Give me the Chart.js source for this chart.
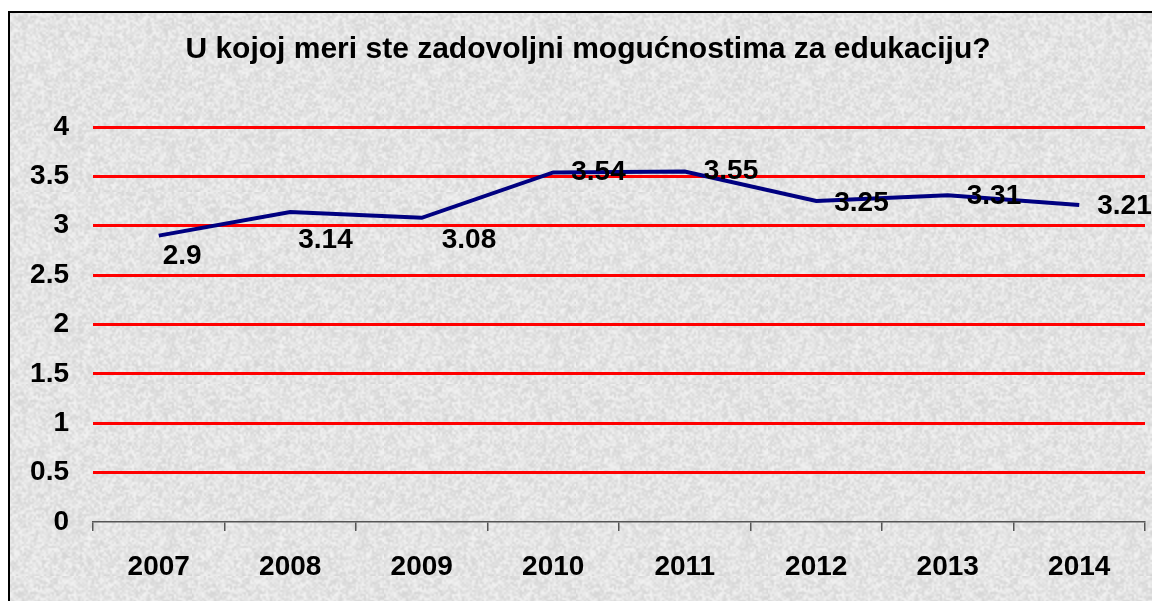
<!DOCTYPE html>
<html>
<head>
<meta charset="utf-8">
<script src="https://cdn.jsdelivr.net/npm/chart.js@4"></script>
<style>
  html, body { margin: 0; padding: 0; background: #fff; }
  #box { position: absolute; left: 0; top: 0; width: 1152px; height: 601px; }
</style>
</head>
<body>
<div id="box"><canvas id="chart" width="1152" height="601"></canvas></div>
<script>
const chartTitle = 'U kojoj meri ste zadovoljni mogućnostima za edukaciju?';
const years = ['2007', '2008', '2009', '2010', '2011', '2012', '2013', '2014'];
const scores = [2.9, 3.14, 3.08, 3.54, 3.55, 3.25, 3.31, 3.21];

// where each value label sits relative to its point (px)
const labelDx = [4, 8, 20, 18, 19, 18, 19, 18];
const labelDy = [21, 28, 22, 0, 0, 2, 1, 1];

const FONT = '"Liberation Sans", Arial, sans-serif';

// grey marble-ish background tile
function makeTile() {
  const small = document.createElement('canvas');
  small.width = 96; small.height = 96;
  const sctx = small.getContext('2d');
  const img = sctx.createImageData(96, 96);
  let seed = 12345;
  const rnd = () => { seed = (seed * 1103515245 + 12345) & 0x7fffffff; return seed / 0x7fffffff; };
  for (let i = 0; i < 96 * 96; i++) {
    const v = Math.round(212 + rnd() * 32);
    img.data[i * 4] = v; img.data[i * 4 + 1] = v; img.data[i * 4 + 2] = v; img.data[i * 4 + 3] = 255;
  }
  sctx.putImageData(img, 0, 0);
  const tile = document.createElement('canvas');
  tile.width = 192; tile.height = 192;
  const tctx = tile.getContext('2d');
  tctx.imageSmoothingEnabled = true;
  tctx.drawImage(small, 0, 0, 192, 192);
  return tile;
}
const tile = makeTile();

const backgroundPlugin = {
  id: 'background',
  beforeDraw(chart) {
    const ctx = chart.ctx;
    ctx.save();
    ctx.fillStyle = '#fff';
    ctx.fillRect(0, 0, chart.width, chart.height);
    ctx.fillStyle = ctx.createPattern(tile, 'repeat');
    ctx.fillRect(8, 11, chart.width, chart.height);
    ctx.strokeStyle = '#000';
    ctx.lineWidth = 2;
    ctx.beginPath();
    ctx.moveTo(9, chart.height);
    ctx.lineTo(9, 12);
    ctx.lineTo(chart.width, 12);
    ctx.stroke();
    // title
    ctx.fillStyle = '#000';
    ctx.font = 'bold 30px ' + FONT;
    ctx.textAlign = 'center';
    ctx.textBaseline = 'alphabetic';
    ctx.fillText(chartTitle, 588, 58);
    ctx.restore();
  }
};

const valueLabels = {
  id: 'valueLabels',
  afterDatasetsDraw(chart) {
    const ctx = chart.ctx;
    const meta = chart.getDatasetMeta(0);
    ctx.save();
    ctx.fillStyle = '#000';
    ctx.font = 'bold 28px ' + FONT;
    ctx.textAlign = 'left';
    ctx.textBaseline = 'middle';
    meta.data.forEach((pt, i) => {
      ctx.fillText(String(scores[i]), pt.x + labelDx[i], pt.y + labelDy[i]);
    });
    ctx.restore();
  }
};

new Chart(document.getElementById('chart'), {
  type: 'line',
  data: {
    labels: years,
    datasets: [{
      data: scores,
      borderColor: '#000080',
      borderWidth: 4,
      pointRadius: 0,
      tension: 0,
      fill: false
    }]
  },
  options: {
    responsive: false,
    animation: false,
    layout: { padding: { top: 127, right: 7, left: 0, bottom: 0 } },
    plugins: {
      legend: { display: false },
      title: { display: false },
      tooltip: { enabled: false }
    },
    scales: {
      x: {
        offset: true,
        grid: { offset: true, drawOnChartArea: false, drawTicks: true, tickLength: 9, color: '#555', lineWidth: 1.5 },
        border: { display: true, color: '#555', width: 1.5 },
        ticks: { color: '#000', padding: 19, font: { family: FONT, size: 28, weight: 'bold' }, maxRotation: 0 },
        afterFit(scale) { scale.height = 79; }
      },
      y: {
        min: 0,
        max: 4,
        ticks: {
          stepSize: 0.5, color: '#000', padding: 24,
          font: { family: FONT, size: 28, weight: 'bold' },
          callback: v => String(v)
        },
        grid: { drawTicks: false, lineWidth: 3, color: c => c.tick && c.tick.value === 0 ? 'rgba(0,0,0,0)' : '#ff0000' },
        border: { display: false },
        afterFit(scale) { scale.width = 93; }
      }
    }
  },
  plugins: [backgroundPlugin, valueLabels]
});
</script>
</body>
</html>
